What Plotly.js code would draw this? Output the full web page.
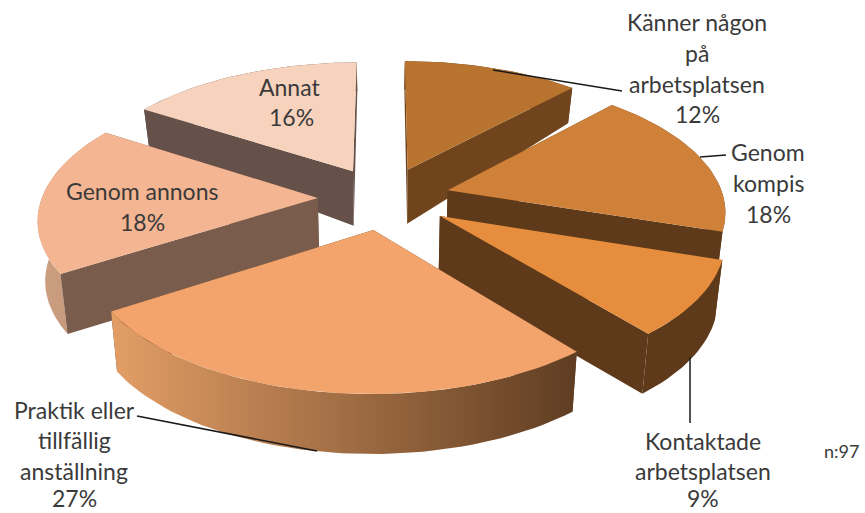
<!DOCTYPE html>
<html><head><meta charset="utf-8">
<script src="https://cdn.plot.ly/plotly-3.0.1.min.js"></script>
<style>html,body{margin:0;padding:0;background:#fff}</style></head>
<body><div id="chart" style="width:865px;height:513px"></div>
<script>
// Data, clockwise from twelve o'clock
const sliceNames = ['Känner någon på arbetsplatsen','Genom kompis','Kontaktade arbetsplatsen','Praktik eller tillfällig anställning','Genom annons','Annat'];
const sliceValues = [12,18,9,27,18,16];
const topColors = ['#B8732F','#CF8139','#E68E3E','#F2A46C','#F4B592','#F7D2BC'];
const wallColors = ['#70441C','#5E3A1A','#5E3A1A','#5F3D22','#7A5C4C','#65504A'];
const outerLeft = ['#70441C','#6A4119','#5E3A1A','#E39E66','#CDA083','#65504A'];
const outerRight = ['#70441C','#5E3A1A','#5E3A1A','#5F3D22','#BE9073','#65504A'];
const drawOrder = [5,0,4,1,2,3];
const labelLines = [
 ['Känner någon',697,22],['på',697,53],['arbetsplatsen',697,84],['12%',697,114],
 ['Genom',768,152],['kompis',768,183],['18%',768,214],
 ['Kontaktade',703,441],['arbetsplatsen',703,471],['9%',703,498],
 ['Praktik eller',74,410],['tillfällig',74,440],['anställning',74,471],['27%',74,498],
 ['Genom annons',142,191],['18%',142,222],
 ['Annat',289,87],['16%',291,117]
];
const leaders = [[493,70,622,91],[700,157,726,155],[690,357,690,423],[137,416,317,451]];

// Projection of the tilted pie
const CX=384, CY=198, F=276, G=131, P=0.14, EXPLODE=0.24, SHRINK=0.978;
function depth(v){ return 60-26*Math.max(v,0); }
function project(u,v,down){
  const w=1+P*v;
  return [CX+F*u/w*(down?SHRINK:1), CY-G*v/w+(down?depth(v):0)];
}
const total=sliceValues.reduce((a,b)=>a+b,0);
let acc=0;
const slices=sliceValues.map(val=>{
  const a0=acc/total*2*Math.PI; acc+=val; const a1=acc/total*2*Math.PI;
  const mid=(a0+a1)/2;
  const ou=EXPLODE*Math.sin(mid), ov=EXPLODE*Math.cos(mid);
  const arc=[]; const n=Math.max(8,Math.round(val*2));
  for(let i=0;i<=n;i++){const a=a0+(a1-a0)*i/n; arc.push([ou+Math.sin(a),ov+Math.cos(a)]);}
  return {apex:[ou,ov],arc};
});
function poly(points,color,grad){
  const tr={type:'scatter',mode:'lines',x:points.map(p=>p[0]),y:points.map(p=>p[1]),
    fill:'toself',fillcolor:color,line:{width:0,color:color},hoverinfo:'skip',showlegend:false};
  if(grad) tr.fillgradient={type:'horizontal',colorscale:[[0,grad[0]],[1,grad[1]]]};
  return tr;
}
const traces=[];
drawOrder.forEach(i=>{
  const s=slices[i], c=s.apex, arc=s.arc;
  const wall=(a,b)=>[project(a[0],a[1],false),project(b[0],b[1],false),project(b[0],b[1],true),project(a[0],a[1],true),project(a[0],a[1],false)];
  const first=arc[0], last=arc[arc.length-1];
  const faces=[
   {v:(c[1]+first[1])/2,pts:wall(c,first),col:wallColors[i]},
   {v:(c[1]+last[1])/2,pts:wall(c,last),col:wallColors[i]},
   {v:arc.reduce((q,p)=>q+p[1],0)/arc.length,
    pts:arc.map(p=>project(p[0],p[1],false)).concat(arc.slice().reverse().map(p=>project(p[0],p[1],true))),
    col:outerRight[i],grad:[outerLeft[i],outerRight[i]]}
  ];
  faces.sort((a,b)=>b.v-a.v).forEach(f=>traces.push(poly(f.pts,f.col,f.grad)));
  const top=[project(c[0],c[1],false)].concat(arc.map(p=>project(p[0],p[1],false)));
  top.push(top[0]);
  traces.push(poly(top,topColors[i]));
});
const annotations=labelLines.map(l=>({x:l[1],y:l[2],text:l[0],showarrow:false,xref:'x',yref:'y',
  xanchor:'center',yanchor:'middle',font:{family:'Lato, Carlito, sans-serif',size:23,color:'#3a3a3a'}}));
annotations.push({x:841,y:451,text:'n:97',showarrow:false,xanchor:'center',yanchor:'middle',
  font:{family:'Lato, sans-serif',size:18,color:'#3a3a3a'}});
const shapes=leaders.map(k=>({type:'line',x0:k[0],y0:k[1],x1:k[2],y1:k[3],line:{color:'#1a1a1a',width:1.5},layer:'above'}));
Plotly.newPlot('chart',traces,{
  width:865,height:513,margin:{l:0,r:0,t:0,b:0},paper_bgcolor:'#fff',plot_bgcolor:'#fff',showlegend:false,
  xaxis:{range:[0,865],visible:false,fixedrange:true},
  yaxis:{range:[513,0],visible:false,fixedrange:true},
  annotations,shapes
},{displayModeBar:false,staticPlot:true});
</script></body></html>
